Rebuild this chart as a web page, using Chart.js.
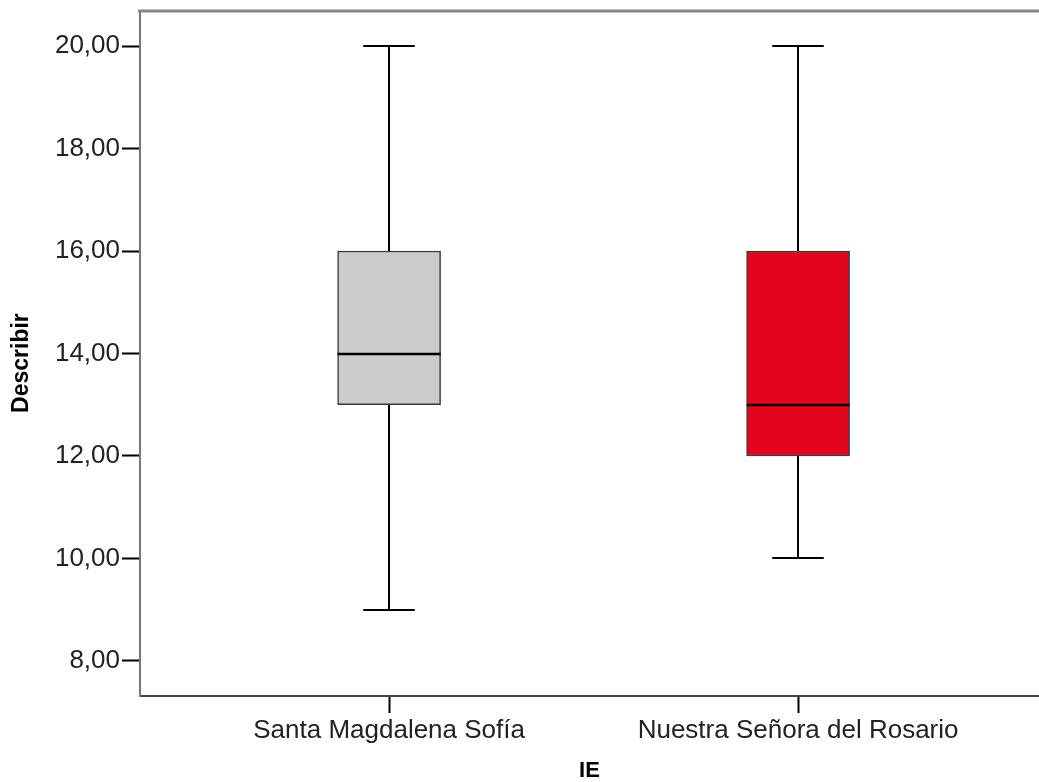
<!DOCTYPE html>
<html>
<head>
<meta charset="utf-8">
<script src="https://cdn.jsdelivr.net/npm/chart.js@4/dist/chart.umd.min.js"></script>
<style>
  html, body { margin: 0; padding: 0; background: #fff; }
  #wrap { width: 1039px; height: 782px; }
</style>
</head>
<body>
<div id="wrap"><canvas id="box-chart" width="1039" height="782"></canvas></div>
<script>
// Datos del diagrama de caja
const categories = ['Santa Magdalena Sofía', 'Nuestra Señora del Rosario'];
const catPos = [1, 2];
const minVals = [9, 10];
const q1Vals = [13, 12];
const medianVals = [14, 13];
const q3Vals = [16, 16];
const maxVals = [20, 20];
const yTicks = [8, 10, 12, 14, 16, 18, 20];
const boxColors = ['#cccccc', '#e3051b'];

const BOX_W = 103;
const FONT = "'Liberation Sans', Arial, sans-serif";

// Bigotes, mediana y marco superior
const boxPlugin = {
    id: 'boxExtras',
    beforeDatasetsDraw(chart) {
        const { ctx, scales: { x, y } } = chart;
        ctx.save();
        ctx.strokeStyle = '#000';
        ctx.lineWidth = 2;
        catPos.forEach((c, i) => {
            const px = Math.round(x.getPixelForValue(c));
            const cap = BOX_W / 4;
            [[q3Vals[i], maxVals[i]], [q1Vals[i], minVals[i]]].forEach(([from, to]) => {
                const y1 = y.getPixelForValue(from);
                const y2 = Math.round(y.getPixelForValue(to));
                ctx.beginPath();
                ctx.moveTo(px, y1);
                ctx.lineTo(px, y2);
                ctx.moveTo(px - cap, y2);
                ctx.lineTo(px + cap, y2);
                ctx.stroke();
            });
        });
        ctx.restore();
    },
    afterDatasetsDraw(chart) {
        const { ctx, chartArea, scales: { x, y } } = chart;
        ctx.save();
        ctx.strokeStyle = '#000';
        ctx.lineWidth = 2.5;
        catPos.forEach((c, i) => {
            const px = x.getPixelForValue(c);
            const py = Math.round(y.getPixelForValue(medianVals[i]));
            ctx.beginPath();
            ctx.moveTo(px - BOX_W / 2, py);
            ctx.lineTo(px + BOX_W / 2, py);
            ctx.stroke();
        });
        // marco superior
        ctx.strokeStyle = '#888';
        ctx.lineWidth = 3;
        ctx.beginPath();
        ctx.moveTo(chartArea.left - 2, chartArea.top);
        ctx.lineTo(chartArea.right, chartArea.top);
        ctx.stroke();
        ctx.restore();
    }
};

const ctx = document.getElementById('box-chart').getContext('2d');
const boxChart = new Chart(ctx, {
    type: 'bar',
    data: {
        datasets: [{
            data: catPos.map((c, i) => ({ x: c, y: [q1Vals[i], q3Vals[i]] })),
            backgroundColor: boxColors,
            borderColor: '#3a3a3a',
            borderWidth: 1.5,
            borderSkipped: false,
            barThickness: BOX_W
        }]
    },
    plugins: [boxPlugin],
    options: {
        responsive: false,
        animation: false,
        layout: { padding: { top: 11, left: 0, right: 0, bottom: 0 } },
        plugins: {
            legend: { display: false },
            tooltip: { enabled: false }
        },
        scales: {
            x: {
                type: 'linear',
                offset: false,
                min: 0.391,
                max: 2.589,
                afterBuildTicks: scale => { scale.ticks = catPos.map(v => ({ value: v })); },
                afterFit: scale => { scale.height = 86; },
                grid: {
                    offset: false,
                    drawOnChartArea: false,
                    tickLength: 17,
                    tickColor: '#000',
                    tickWidth: 2
                },
                border: { color: '#444', width: 2 },
                ticks: {
                    padding: 2,
                    color: '#222',
                    font: { family: FONT, size: 26 },
                    maxRotation: 0,
                    callback: v => categories[catPos.indexOf(v)]
                },
                title: {
                    display: true,
                    text: 'IE',
                    color: '#000',
                    font: { family: FONT, size: 22, weight: 'bold', lineHeight: 1 },
                    padding: { top: 0, bottom: 0 }
                }
            },
            y: {
                min: 7.317,
                max: 20.683,
                afterBuildTicks: scale => { scale.ticks = yTicks.map(v => ({ value: v })); },
                afterFit: scale => { scale.width = 140; },
                grid: {
                    drawOnChartArea: false,
                    tickLength: 18,
                    tickColor: '#000',
                    tickWidth: 2
                },
                border: { color: '#777', width: 2 },
                ticks: {
                    padding: 2,
                    color: '#222',
                    font: { family: FONT, size: 26, lineHeight: 0.6 },
                    callback: v => v.toFixed(2).replace('.', ',')
                },
                title: {
                    display: true,
                    text: 'Describir   ',
                    color: '#000',
                    font: { family: FONT, size: 23, weight: 'bold', lineHeight: 1.2 },
                    padding: { top: 8, bottom: 0 }
                }
            }
        }
    }
});
</script>
</body>
</html>
